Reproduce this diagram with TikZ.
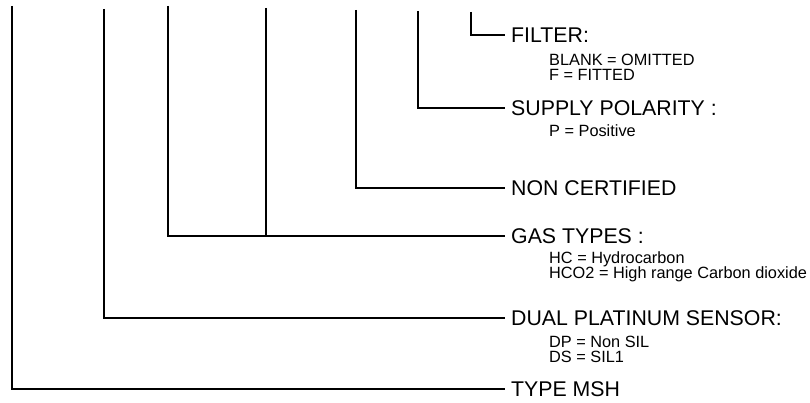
\documentclass[tikz,border=0pt]{standalone}
\usepackage{fontspec}
\setmainfont{Liberation Sans}
\begin{document}
\begin{tikzpicture}[x=1pt,y=-1pt,
  lead/.style={draw=black, line width=1.8pt, line join=miter},
  head/.style={anchor=west, font=\fontsize{21.3}{25}\selectfont, text height=15.2pt, text depth=0pt, inner ysep=0pt, inner xsep=6pt},
  sub/.style={anchor=west, font=\fontsize{16.3}{18}\selectfont, text height=11.7pt, text depth=0pt, inner sep=0pt}]
\useasboundingbox (0,0) rectangle (810,403);
% heading labels
\node[head] (filter)  at (505,35)  {FILTER:};
\node[head] (supply)  at (505,108) {SUPPLY POLARITY :};
\node[head] (noncert) at (505,188) {NON CERTIFIED};
\node[head] (gas)     at (505,236) {GAS TYPES :};
\node[head] (dual)    at (505,318) {DUAL PLATINUM SENSOR:};
\node[head] (type)    at (505,389) {TYPE MSH};
% option lines
\node[sub] (fblank) at (549,60)  {BLANK = OMITTED};
\node[sub] (ffit)   at (549,75)  {F = FITTED};
\node[sub] (ppos)   at (549,131) {P = Positive};
\node[sub] (ghc)    at (549,258) {HC = Hydrocarbon};
\node[sub] (ghco)   at (549,273) {HCO2 = High range Carbon dioxide};
\node[sub] (ddp)    at (549,342) {DP = Non SIL};
\node[sub] (dds)    at (549,357) {DS = SIL1};
% tops of the leader lines
\coordinate (t1) at (12,6);
\coordinate (t2) at (104,9);
\coordinate (t3) at (168,6);
\coordinate (t4) at (266,8);
\coordinate (t5) at (356,10);
\coordinate (t6) at (418,11);
\coordinate (t7) at (471,12);
\coordinate (j4) at (t4 |- gas.west);
% leaders
\draw[lead] (t7) |- (filter.west);
\draw[lead] (t6) |- (supply.west);
\draw[lead] (t5) |- (noncert.west);
\draw[lead] (t3) |- (gas.west);
\draw[lead] (t4) -- (j4);
\draw[lead] (t2) |- (dual.west);
\draw[lead] (t1) |- (type.west);
\end{tikzpicture}
\end{document}
